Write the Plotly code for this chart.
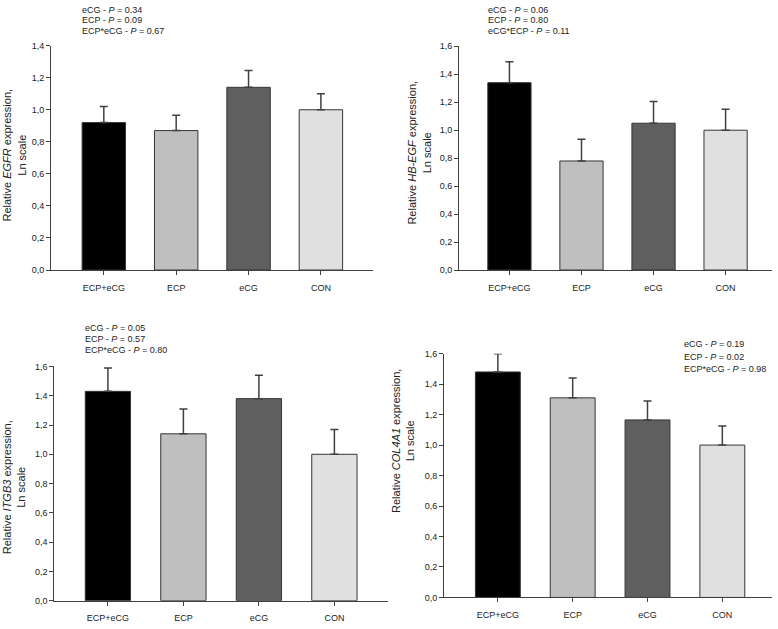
import plotly.graph_objects as go

W, H = 778, 629

categories = ["ECP+eCG", "ECP", "eCG", "CON"]
bar_colors = ["#000000", "#bfbfbf", "#5f5f5f", "#e0e0e0"]

egfr_values = [0.92, 0.87, 1.14, 1.00]
egfr_errors = [0.10, 0.095, 0.105, 0.10]

hbegf_values = [1.34, 0.78, 1.05, 1.00]
hbegf_errors = [0.15, 0.155, 0.155, 0.15]

itgb3_values = [1.43, 1.14, 1.38, 1.00]
itgb3_errors = [0.16, 0.17, 0.16, 0.17]

col4a1_values = [1.48, 1.31, 1.165, 1.00]
col4a1_errors = [0.12, 0.13, 0.125, 0.125]

egfr_stats = ["eCG - <i>P</i> = 0.34", "ECP - <i>P</i> = 0.09", "ECP*eCG - <i>P</i> = 0.67"]
hbegf_stats = ["eCG - <i>P</i> = 0.06", "ECP - <i>P</i> = 0.80", "eCG*ECP - <i>P</i> = 0.11"]
itgb3_stats = ["eCG - <i>P</i> = 0.05", "ECP - <i>P</i> = 0.57", "ECP*eCG - <i>P</i> = 0.80"]
col4a1_stats = ["eCG - <i>P</i> = 0.19", "ECP - <i>P</i> = 0.02", "ECP*eCG - <i>P</i> = 0.98"]

y_titles = [
    "Relative <i>EGFR</i> expression,<br>Ln scale",
    "Relative <i>HB-EGF</i> expression,<br>Ln scale",
    "Relative <i>ITGB3</i> expression,<br>Ln scale",
    "Relative <i>COL4A1</i> expression,<br>Ln scale",
]

FONT = "Liberation Sans, Arial, sans-serif"
AX = "#404040"

# panel geometry in pixels: (x_left, x_right, y_top, y_bottom), y max, x range
panels = [
    dict(vals=egfr_values, errs=egfr_errors, stats=egfr_stats,
         box=(51, 373, 41.3, 269.3), ymax=1.4, xr=[-0.73, 3.72],
         stat_pos=(80, [4.7, 15.7, 26.3]), title_pos=(14, 153)),
    dict(vals=hbegf_values, errs=hbegf_errors, stats=hbegf_stats,
         box=(459, 771.7, 42, 269.3), ymax=1.6, xr=[-0.70, 3.64],
         stat_pos=(486, [4.7, 15.7, 26.3]), title_pos=(419, 150)),
    dict(vals=itgb3_values, errs=itgb3_errors, stats=itgb3_stats,
         box=(54.3, 388, 367.3, 605.3), ymax=1.6, xr=[-0.71, 3.71],
         stat_pos=(83, [328.3, 339.3, 350.3]), title_pos=(14, 490)),
    dict(vals=col4a1_values, errs=col4a1_errors, stats=col4a1_stats,
         box=(444, 771.7, 354.3, 602), ymax=1.6, xr=[-0.72, 3.66],
         stat_pos=(682, [344.7, 357.7, 370.3]), title_pos=(403, 443)),
]

fig = go.Figure()
annotations = []
layout_axes = {}

for i, p in enumerate(panels, start=1):
    xa = "x" if i == 1 else f"x{i}"
    ya = "y" if i == 1 else f"y{i}"
    fig.add_trace(go.Bar(
        x=categories, y=p["vals"],
        xaxis=xa, yaxis=ya,
        width=0.6,
        marker=dict(color=bar_colors, line=dict(color="#353535", width=1)),
        error_y=dict(type="data", symmetric=False, array=p["errs"],
                     arrayminus=[0] * len(p["errs"]),
                     color=AX, thickness=1.5, width=4),
        showlegend=False,
    ))
    xl, xr_, yt, yb = p["box"]
    layout_axes["xaxis" if i == 1 else f"xaxis{i}"] = dict(
        domain=[xl / W, xr_ / W], anchor=ya, range=p["xr"],
        showline=True, linecolor=AX, linewidth=1,
        ticks="outside", ticklen=4, tickcolor=AX, tickwidth=1,
        ticklabelstandoff=5,
        tickfont=dict(family=FONT, size=9, color="#222"),
        showgrid=False, zeroline=False, fixedrange=True,
    )
    layout_axes["yaxis" if i == 1 else f"yaxis{i}"] = dict(
        domain=[1 - yb / H, 1 - yt / H], anchor=xa, range=[0, p["ymax"]],
        dtick=0.2, tick0=0, tickformat=".1f",
        showline=True, linecolor=AX, linewidth=1,
        ticks="outside", ticklen=4, tickcolor=AX, tickwidth=1,
        tickfont=dict(family=FONT, size=9, color="#222"),
        showgrid=False, zeroline=False, fixedrange=True,
    )
    sx, sys = p["stat_pos"]
    for txt, sy in zip(p["stats"], sys):
        annotations.append(dict(
            text=txt, xref="paper", yref="paper",
            x=sx / W, y=1 - sy / H, xanchor="left", yanchor="middle",
            showarrow=False, font=dict(family=FONT, size=9, color="#222"),
        ))
    tx, ty = p["title_pos"]
    annotations.append(dict(
        text=y_titles[i - 1], xref="paper", yref="paper",
        x=tx / W, y=1 - ty / H, xanchor="center", yanchor="middle",
        textangle=-90, showarrow=False, align="center",
        font=dict(family=FONT, size=11, color="#222"),
    ))

fig.update_layout(
    width=W, height=H,
    margin=dict(l=0, r=0, t=0, b=0),
    paper_bgcolor="white", plot_bgcolor="white",
    separators=",.",
    bargap=0.4,
    annotations=annotations,
    **layout_axes,
)

fig.write_html(
    "out.html",
    config={"displayModeBar": False, "staticPlot": True},
    post_script="document.body.style.margin='0';document.body.style.overflow='hidden';",
)
